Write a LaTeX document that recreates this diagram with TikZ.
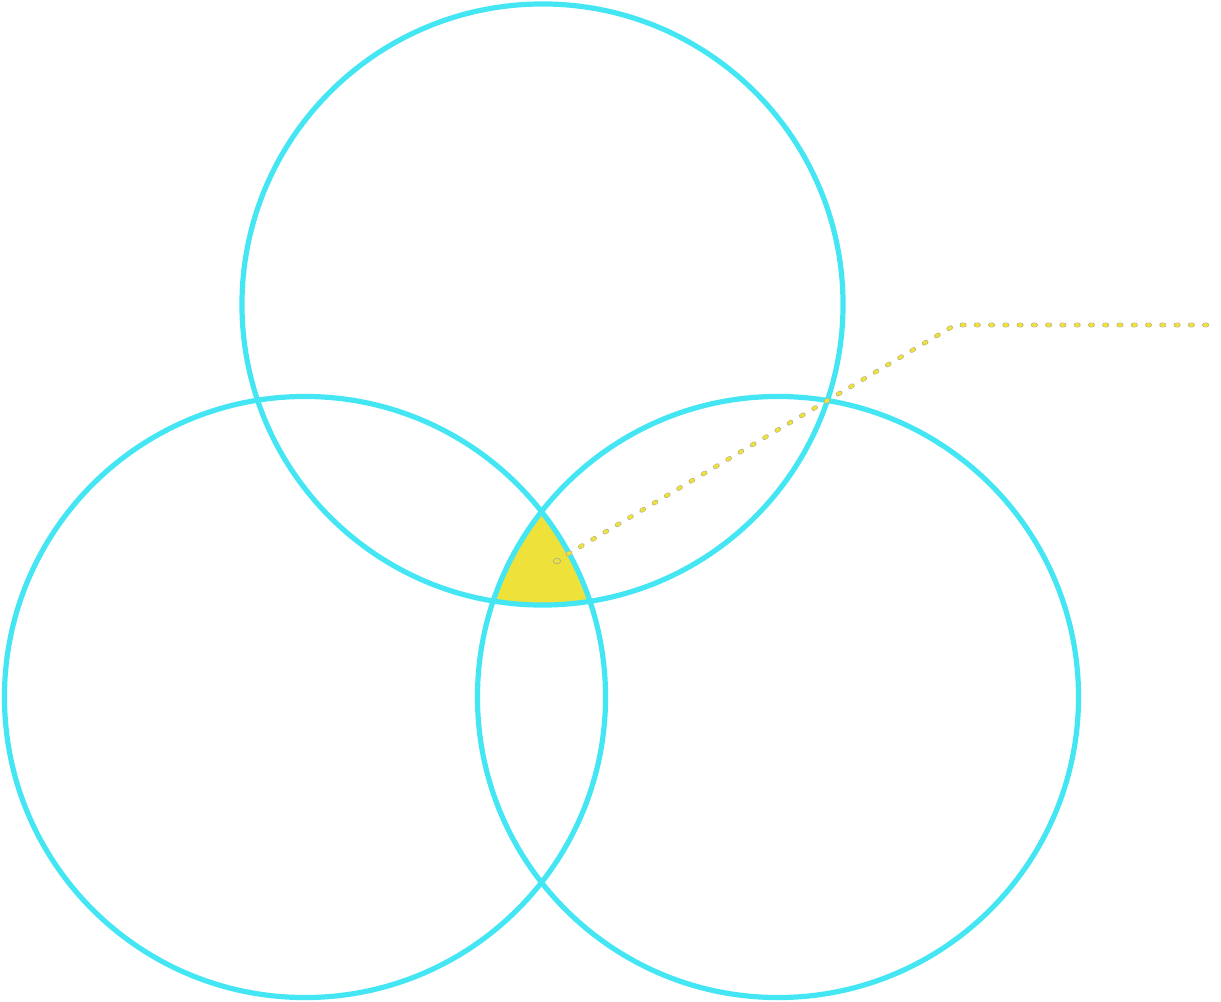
\documentclass[tikz,border=0pt]{standalone}
\begin{document}
\begin{tikzpicture}[x=0.75pt,y=-0.75pt,
  ring/.style={draw=ringcyan,line width=3.9pt},
  leaderbase/.style={draw=dotedge,line width=3.4pt,line cap=round,dash pattern=on 1.8pt off 8.9pt},
  leadertop/.style={draw=dotfill,line width=2.7pt,line cap=round,dash pattern=on 1.8pt off 8.9pt}]
\definecolor{ringcyan}{HTML}{45E6F4}
\definecolor{areafill}{HTML}{EEE23A}
\definecolor{dotfill}{HTML}{EEE23A}
\definecolor{dotedge}{HTML}{B8B08A}
\useasboundingbox (0,0) rectangle (1221,1002);
\coordinate (T) at (542.5,304.5);
\coordinate (L) at (305,697);
\coordinate (R) at (778,697);
% shared region of all three sets
\begin{scope}
  \clip (T) circle[radius=225.4pt];
  \clip (L) circle[radius=225.4pt];
  \fill[areafill,draw=dotedge,line width=0.6pt] (R) circle[radius=225.4pt];
\end{scope}
\draw[ring] (T) circle[radius=225.4pt];
\draw[ring] (L) circle[radius=225.4pt];
\draw[ring] (R) circle[radius=225.4pt];
% leader line from the shared region
\coordinate (start) at (557,561);
\coordinate (bend) at (955,325);
\coordinate (tail) at (1218,325);
\draw[leaderbase] (start) ++(11,-7) -- (bend) -- (tail);
\draw[leadertop] (start) ++(11,-7) -- (bend) -- (tail);
\draw[dotedge,line width=0.6pt] (start) ellipse[x radius=2.8pt,y radius=2pt];
\end{tikzpicture}
\end{document}
